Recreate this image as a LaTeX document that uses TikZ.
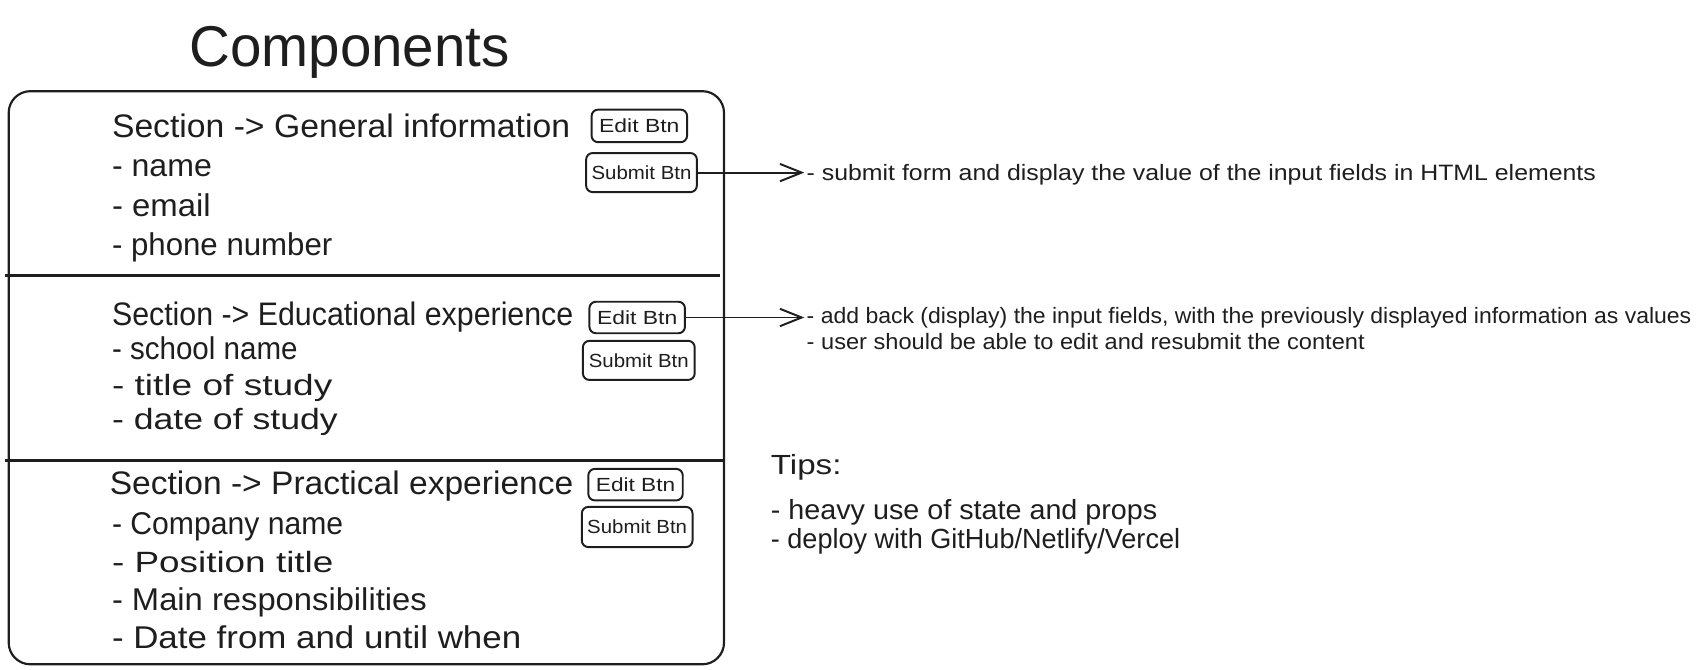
\documentclass[tikz,border=0pt]{standalone}
\usepackage{fontspec}
\usepackage{graphicx}
\setmainfont{Liberation Sans}
\usetikzlibrary{arrows.meta}
\definecolor{ink}{HTML}{1E1E1E}
\newcommand\fitto[2]{\resizebox{#1pt}{\height}{#2}}
\begin{document}
\begin{tikzpicture}[x=1pt,y=-1pt,
  every node/.style={text=ink},
  txt/.style={anchor=base west,inner sep=0pt},
  titletxt/.style={anchor=base,inner sep=0pt,font=\fontsize{53}{53}\selectfont},
  headtxt/.style={txt,font=\fontsize{30}{30}\selectfont},
  itemtxt/.style={txt,font=\fontsize{29}{29}\selectfont},
  itemtxtb/.style={txt,font=\fontsize{27}{27}\selectfont},
  notetxt/.style={anchor=base west,inner xsep=2pt,inner ysep=0pt,font=\fontsize{20.5}{20.5}\selectfont},
  tiptxt/.style={txt,font=\fontsize{25.5}{25.5}\selectfont},
  btn/.style={draw=ink,line width=1.8pt,rounded corners=6pt,inner sep=0pt,font=\fontsize{17.5}{17.5}\selectfont},
  frame/.style={draw=ink,line width=2pt,rounded corners=20pt},
  sep/.style={draw=ink,line width=3pt},
  arr/.style={draw=ink,line width=1.8pt,-{Straight Barb[length=20pt,width=16pt,line width=1.8pt]}}
]
\useasboundingbox (0,0) rectangle (1568,617);
% title
\node[titletxt] (title) at (322,61) {\fitto{295}{Components}};
% outer frame
\draw[frame] (8,84) rectangle (667,612);
% separators
\coordinate (s1l) at (5,254);
\coordinate (s1r) at (663,254);
\coordinate (s2l) at (5,424);
\coordinate (s2r) at (667,424);
\draw[sep] (s1l) -- (s1r);
\draw[sep] (s2l) -- (s2r);
% section 1
\node[headtxt] (h1) at (103,127) {\fitto{422}{Section -> General information}};
\node[itemtxt] (i1a) at (103,163) {\fitto{92}{- name}};
\node[itemtxt] (i1b) at (103,199) {\fitto{91}{- email}};
\node[itemtxt] (i1c) at (103,235) {\fitto{203}{- phone number}};
\node[btn,minimum width=88pt,minimum height=30pt] (e1) at (589,116) {\fitto{74}{Edit Btn}};
\node[btn,minimum width=102pt,minimum height=36pt] (b1) at (591,159) {\fitto{92}{Submit Btn}};
% section 2
\node[headtxt] (h2) at (103,300) {\fitto{425}{Section -> Educational experience}};
\node[itemtxt] (i2a) at (103,331) {\fitto{171}{- school name}};
\node[itemtxtb] (i2b) at (103,364) {\fitto{203}{- title of study}};
\node[itemtxtb] (i2c) at (103,396) {\fitto{208}{- date of study}};
\node[btn,minimum width=88pt,minimum height=29pt] (e2) at (587,292.5) {\fitto{74}{Edit Btn}};
\node[btn,minimum width=103pt,minimum height=36pt] (b2) at (588.5,332) {\fitto{92}{Submit Btn}};
% section 3
\node[headtxt] (h3) at (101,456) {\fitto{427}{Section -> Practical experience}};
\node[itemtxt] (i3a) at (103,492) {\fitto{213}{- Company name}};
\node[itemtxtb] (i3b) at (103,527) {\fitto{204}{- Position title}};
\node[itemtxt] (i3c) at (103,562) {\fitto{290}{- Main responsibilities}};
\node[itemtxt] (i3d) at (103,597) {\fitto{377}{- Date from and until when}};
\node[btn,minimum width=87pt,minimum height=29pt] (e3) at (585.5,446.5) {\fitto{73}{Edit Btn}};
\node[btn,minimum width=102pt,minimum height=37pt] (b3) at (587,485.5) {\fitto{92}{Submit Btn}};
% annotations
\node[notetxt] (n1) at (741,166) {\fitto{727}{- submit form and display the value of the input fields in HTML elements}};
\node[notetxt] (n2) at (741,298) {\fitto{815}{- add back (display) the input fields, with the previously displayed information as values}};
\node[notetxt] (n3) at (741,322) {\fitto{514}{- user should be able to edit and resubmit the content}};
\draw[arr] (b1.east) -- (b1.east -| n1.west);
\draw[arr] (e2.east) -- (e2.east -| n2.west);
% tips
\node[tiptxt] (t0) at (710,437) {\fitto{65}{Tips:}};
\node[tiptxt] (t1) at (710,479) {\fitto{356}{- heavy use of state and props}};
\node[tiptxt] (t2) at (710,505) {\fitto{377}{- deploy with GitHub/Netlify/Vercel}};
\end{tikzpicture}
\end{document}
